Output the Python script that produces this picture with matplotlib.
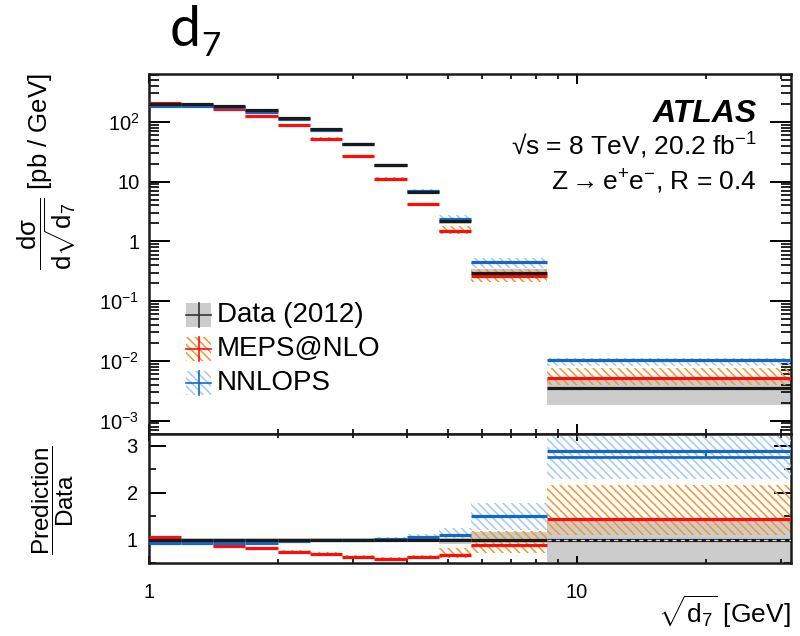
import numpy as np
import matplotlib
matplotlib.use('Agg')
import matplotlib.pyplot as plt
from matplotlib.patches import Rectangle
from matplotlib.lines import Line2D
from matplotlib.ticker import FixedLocator, FixedFormatter, NullFormatter, LogLocator, MultipleLocator

plt.rcParams['font.family'] = ['Liberation Sans', 'DejaVu Sans']
plt.rcParams['mathtext.fontset'] = 'custom'
plt.rcParams['mathtext.rm'] = 'Liberation Sans'
plt.rcParams['mathtext.it'] = 'Liberation Sans:italic'
plt.rcParams['mathtext.bf'] = 'Liberation Sans:bold'
plt.rcParams['mathtext.sf'] = 'Liberation Sans'
plt.rcParams['hatch.linewidth'] = 1.1

# ---------------- data ----------------
bin_edges = [1.0, 1.19, 1.41, 1.68, 2.0, 2.38, 2.83, 3.36, 4.0, 4.76, 5.66, 8.5, 31.6]
data_xsec = [198, 196, 185, 155, 117, 75, 41.8, 18.6, 6.64, 2.17, 0.296, 0.00355]
data_rel_lo = [0.97, 0.97, 0.97, 0.97, 0.97, 0.97, 0.97, 0.97, 0.96, 0.91, 0.93, 0.52]
data_rel_hi = [1.03, 1.03, 1.03, 1.03, 1.03, 1.03, 1.03, 1.03, 1.04, 1.04, 1.16, 1.39]

meps_ratio = [1.05, 0.97, 0.87, 0.82, 0.75, 0.70, 0.64, 0.60, 0.63, 0.68, 0.88, 1.45]
meps_lo = [1.03, 0.95, 0.85, 0.80, 0.72, 0.67, 0.62, 0.58, 0.59, 0.62, 0.72, 1.10]
meps_hi = [1.07, 0.99, 0.89, 0.84, 0.78, 0.73, 0.67, 0.63, 0.67, 0.83, 1.18, 2.17]

nnlops_ratio = [0.94, 0.94, 0.94, 0.94, 0.97, 0.99, 1.00, 1.02, 1.05, 1.11, 1.50, 2.89]
nnlops_lo = [0.92, 0.92, 0.92, 0.92, 0.95, 0.97, 0.98, 0.99, 0.99, 1.00, 1.20, 2.30]
nnlops_hi = [0.96, 0.96, 0.96, 0.96, 0.99, 1.01, 1.03, 1.06, 1.13, 1.25, 1.78, 3.20]
nnlops_last_second = 2.76
nnlops_last_split = 20.0

x_tick_vals = [1, 10]
x_tick_labels = ['1', '10']
y_tick_vals = [1e-3, 1e-2, 1e-1, 1, 10, 100]
y_tick_labels = [r'$10^{-3}$', r'$10^{-2}$', r'$10^{-1}$', '1', '10', r'$10^{2}$']
r_tick_vals = [1, 2, 3]
r_tick_labels = ['1', '2', '3']

legend_labels = ['Data (2012)', 'MEPS@NLO', 'NNLOPS']

# ---------------- styling ----------------
C_BLACK = '#1a1a1a'
C_GREY = '#cccccc'
C_RED = '#ff0d0d'
C_ORANGE = '#f5952a'
C_BLUE = '#1466c8'
C_LBLUE = '#9fcaf2'
HATCH = '\\\\\\\\'

W, H = 800, 636
fig = plt.figure(figsize=(W / 100, H / 100), dpi=100)


def fx(x):
    return x / W


def fy(y):
    return 1 - y / H


ax = fig.add_axes([fx(149), fy(434), fx(791) - fx(149), fy(74) - fy(434)])
axr = fig.add_axes([fx(149), fy(563.3), fx(791) - fx(149), fy(434) - fy(563.3)], sharex=ax)

edges = np.array(bin_edges)
lo_e, hi_e = edges[:-1], edges[1:]
data = np.array(data_xsec)


def band(a, lo, hi, kind, z):
    for i in range(len(lo)):
        xs = [lo_e[i], hi_e[i]]
        if kind == 'grey':
            a.fill_between(xs, lo[i], hi[i], facecolor=C_GREY, edgecolor='none', linewidth=0, zorder=z)
        else:
            col = C_ORANGE if kind == 'orange' else C_LBLUE
            a.fill_between(xs, lo[i], hi[i], facecolor='none', edgecolor=col, hatch=HATCH,
                           linewidth=0, zorder=z)


def draw_panel(a, scale):
    # scale = data for top panel, ones for ratio panel
    band(a, scale * np.array(data_rel_lo), scale * np.array(data_rel_hi), 'grey', 1)
    band(a, scale * np.array(meps_lo), scale * np.array(meps_hi), 'orange', 2)
    band(a, scale * np.array(nnlops_lo), scale * np.array(nnlops_hi), 'blue', 3)
    a.hlines(scale * np.array(meps_ratio), lo_e, hi_e, colors=C_RED, linewidth=2.3, zorder=5)
    a.hlines(scale * np.array(nnlops_ratio), lo_e, hi_e, colors=C_BLUE, linewidth=2.3, zorder=6)
    a.hlines(scale, lo_e, hi_e, colors=C_BLACK, linewidth=2.3, zorder=7)


draw_panel(ax, data)
draw_panel(axr, np.ones_like(data))

# extra NNLOPS line structure in the last ratio bin
axr.hlines(nnlops_last_second, lo_e[-1], hi_e[-1], colors=C_BLUE, linewidth=2.0, zorder=6)
axr.vlines(nnlops_last_split, nnlops_last_second, nnlops_ratio[-1], colors=C_BLUE, linewidth=1.5, zorder=6)
axr.hlines(1.0, lo_e[-1], hi_e[-1], colors='#d0d0d0', linewidth=1.0, linestyles=(0, (3, 3)), zorder=8)

# ---------------- axes setup ----------------
ax.set_xscale('log')
ax.set_yscale('log')
ax.set_xlim(1.0, 31.6)
ax.set_ylim(6e-4, 630)
ax.yaxis.set_major_locator(FixedLocator(y_tick_vals))
ax.yaxis.set_major_formatter(FixedFormatter(y_tick_labels))
ax.yaxis.set_minor_locator(LogLocator(base=10, subs=np.arange(2, 10), numticks=30))
ax.yaxis.set_minor_formatter(NullFormatter())
ax.xaxis.set_major_locator(FixedLocator(x_tick_vals))
ax.xaxis.set_major_formatter(FixedFormatter(x_tick_labels))
ax.xaxis.set_minor_locator(LogLocator(base=10, subs=np.arange(2, 10), numticks=30))
ax.xaxis.set_minor_formatter(NullFormatter())

ax.tick_params(axis='y', which='major', direction='in', length=15, width=1.4, right=True, labelsize=14.5, pad=7)
ax.tick_params(axis='y', which='minor', direction='in', length=7.5, width=1.2, right=True)
ax.tick_params(axis='x', which='major', direction='in', length=7, width=1.4, top=True, labelbottom=False)
ax.tick_params(axis='x', which='minor', direction='in', length=3.5, width=1.2, top=True)

axr.set_ylim(0.5, 3.25)
axr.yaxis.set_major_locator(FixedLocator(r_tick_vals))
axr.yaxis.set_major_formatter(FixedFormatter(r_tick_labels))
axr.yaxis.set_minor_locator(MultipleLocator(0.5))
axr.tick_params(axis='y', which='major', direction='in', length=12, width=1.4, right=True, labelsize=14.5, pad=8)
axr.tick_params(axis='y', which='minor', direction='in', length=5, width=1.2, right=True)
axr.tick_params(axis='x', which='major', direction='in', length=5, width=1.4, top=True, labelsize=14.5, pad=14)
axr.tick_params(axis='x', which='minor', direction='in', length=3, width=1.2, top=True)

for a in (ax, axr):
    for s in a.spines.values():
        s.set_linewidth(1.8)
        s.set_color(C_BLACK)

# ---------------- texts ----------------
fig.text(fx(170), fy(46), 'd', fontsize=40, family=['Lato', 'DejaVu Sans'],
         va='baseline', ha='left')
fig.text(fx(201), fy(56), '7', fontsize=24, family=['Lato', 'DejaVu Sans'],
         va='baseline', ha='left')

fig.text(fx(757), fy(121.7), 'ATLAS', fontsize=23, weight='bold', style='italic', ha='right', va='baseline')
fig.text(fx(757), fy(155), '√s = 8 TeV, 20.2 fb$^{-1}$', fontsize=19, ha='right', va='baseline')
fig.text(fx(757), fy(190), r'Z$\rightarrow$e$^{+}$e$^{-}$, R = 0.4', fontsize=19, ha='right', va='baseline')

fig.text(fx(47), fy(73), r'$\dfrac{\mathrm{d\sigma}}{\mathrm{d}\sqrt{\mathrm{d}_7}}$ [pb / GeV]',
         fontsize=18.5, rotation=90, ha='center', va='top')
fig.text(fx(53), fy(500), r'$\dfrac{\mathrm{Prediction}}{\mathrm{Data}}$',
         fontsize=17.5, rotation=90, ha='center', va='center')
fig.text(fx(791), fy(612), r'$\sqrt{\mathrm{d}_7}$ [GeV]', fontsize=19, ha='right', va='center')

# ---------------- legend (drawn manually) ----------------
leg_styles = [
    dict(face=C_GREY, hatch=None, edge='none', cross='#333333'),
    dict(face='none', hatch=HATCH, edge=C_ORANGE, cross=C_RED),
    dict(face='none', hatch=HATCH, edge=C_LBLUE, cross=C_BLUE),
]
row_y = [315, 349, 383]
for lbl, st, yc in zip(legend_labels, leg_styles, row_y):
    x0, x1 = 186, 211
    y0, y1 = yc - 12, yc + 12
    r = Rectangle((fx(x0), fy(y1)), fx(x1) - fx(x0), fy(y0) - fy(y1), transform=fig.transFigure,
                  facecolor=st['face'], edgecolor=st['edge'], hatch=st['hatch'], linewidth=0)
    fig.add_artist(r)
    fig.add_artist(Line2D([fx(x0), fx(x1)], [fy(yc), fy(yc)], transform=fig.transFigure,
                          color=st['cross'], linewidth=1.2))
    fig.add_artist(Line2D([fx((x0 + x1) / 2)] * 2, [fy(y0), fy(y1)], transform=fig.transFigure,
                          color=st['cross'], linewidth=1.2))
    fig.text(fx(217), fy(yc), lbl, fontsize=20, ha='left', va='center')

fig.savefig('out.png', dpi=100)
